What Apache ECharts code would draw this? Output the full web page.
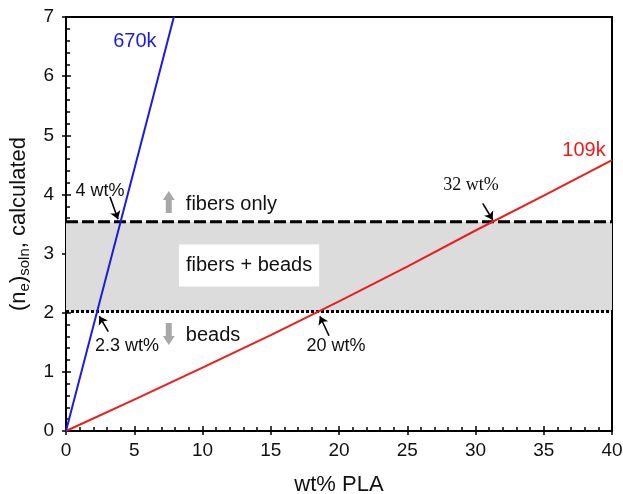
<!DOCTYPE html>
<html><head><meta charset="utf-8">
<script src="https://cdn.jsdelivr.net/npm/echarts@6/dist/echarts.min.js"></script>
<style>html,body{margin:0;padding:0;background:#fff}#c{width:623px;height:494px}</style>
</head><body><div id="c"></div>
<script>
// ---- data ----
const xTickLabels = ['0','5','10','15','20','25','30','35','40'];
const yTickLabels = ['0','1','2','3','4','5','6','7'];
const blueX = [0, 2, 4, 6, 7.9];
const blueY = [0, 1.77, 3.54, 5.31, 7.0];
const redX = [0, 5, 10, 15, 20, 25, 30, 35, 40];
const redY = [0, 0.53, 1.07, 1.62, 2.19, 2.78, 3.39, 3.98, 4.58];
const fibersOnlyLevel = 3.54;
const beadsLevel = 2.02;
const levelX = [0, 40];
const arrowFrom = [[3.22, 3.96], [3.10, 1.68], [19.27, 1.61], [30.53, 3.85]];
const arrowTo = [[3.81, 3.58], [2.44, 1.94], [18.6, 1.94], [31.26, 3.57]];
const noteText = ['4 wt%', '2.3 wt%', '20 wt%', '32 wt%'];
const notePos = [[2.49, 4.06], [4.47, 1.44], [19.78, 1.44], [29.67, 4.16]];
const seriesNames = ['670k', '109k'];
const seriesNamePos = [[5.05, 6.58], [37.95, 4.75]];
const regionText = ['fibers only', 'fibers + beads', 'beads'];
const regionPos = [[12.12, 3.83], [13.41, 2.80], [10.77, 1.61]];
const bigArrowPos = [[7.53, 3.87], [7.53, 1.64]];

// ---- styles ----
const FONT = 'Liberation Sans';
const TXT = '#111';
const BLUE = '#1c1ce0';
const RED = '#ee1c1c';
const tickStyle = {color: '#000', width: 1.5};

const zip = (a, b) => a.map((v, i) => [v, b[i]]);

const chart = echarts.init(document.getElementById('c'), null, {renderer: 'canvas'});

const baseAxis = (extra) => Object.assign({
  type: 'value', splitLine: {show: false}
}, extra);

const option = {
  animation: false,
  backgroundColor: '#fff',
  grid: {left: 66, right: 11, top: 17, bottom: 63, show: true, borderColor: '#000', borderWidth: 2,
    containLabel: false, outerBoundsMode: 'none'},
  xAxis: [
    baseAxis({min: 0, max: 40, interval: 5, position: 'bottom',
      axisLine: {show: true, onZero: false, lineStyle: {color: '#000', width: 2}},
      axisTick: {show: true, inside: false, length: 4, lineStyle: tickStyle},
      axisLabel: {margin: 10, fontSize: 19, color: TXT, fontFamily: FONT,
        formatter: v => xTickLabels[Math.round(v / 5)]},
      name: 'wt% PLA', nameLocation: 'middle', nameGap: 43,
      nameTextStyle: {fontSize: 22, color: TXT, fontFamily: FONT}}),
    baseAxis({min: 0, max: 40, interval: 5, position: 'bottom',
      axisLine: {show: false, onZero: false},
      axisTick: {show: true, inside: true, length: 5, lineStyle: tickStyle},
      minorTick: {show: true, splitNumber: 5, length: 4, lineStyle: tickStyle},
      axisLabel: {show: false}})
  ],
  yAxis: [
    baseAxis({min: 0, max: 7, interval: 1, position: 'left',
      axisLine: {show: true, onZero: false, lineStyle: {color: '#000', width: 2}},
      axisTick: {show: true, inside: false, length: 4, lineStyle: tickStyle},
      axisLabel: {margin: 12, fontSize: 19, color: TXT, fontFamily: FONT,
        formatter: v => yTickLabels[Math.round(v)]},
      name: '{m|(n}{s|e}{m|)}{s|soln}{m|, calculated}', nameLocation: 'middle', nameGap: 28,
      nameTextStyle: {fontSize: 22, color: TXT, fontFamily: FONT,
        rich: {
          m: {fontSize: 22, color: TXT, fontFamily: FONT},
          s: {fontSize: 15, color: TXT, fontFamily: FONT, padding: [12, 0, 0, 0]}
        }}}),
    baseAxis({min: 0, max: 7, interval: 1, position: 'left',
      axisLine: {show: false, onZero: false},
      axisTick: {show: true, inside: true, length: 5, lineStyle: tickStyle},
      minorTick: {show: true, splitNumber: 5, length: 4, lineStyle: tickStyle},
      axisLabel: {show: false}})
  ],
  series: [
    {
      type: 'line', name: 'band', data: [], z: 1, silent: true,
      markArea: {silent: true, itemStyle: {color: '#dcdcdc', opacity: 1},
        data: [[{xAxis: levelX[0], yAxis: beadsLevel}, {xAxis: levelX[1], yAxis: fibersOnlyLevel}]]}
    },
    {
      type: 'line', name: 'fibersOnly', data: levelX.map(x => [x, fibersOnlyLevel]), z: 3,
      showSymbol: false, silent: true,
      lineStyle: {color: '#000', width: 3, type: [12, 4], cap: 'butt'}
    },
    {
      type: 'line', name: 'beads', data: levelX.map(x => [x, beadsLevel]), z: 3,
      showSymbol: false, silent: true,
      lineStyle: {color: '#000', width: 3, type: [3, 2], cap: 'butt'}
    },
    {
      type: 'line', name: seriesNames[1], data: zip(redX, redY), z: 4,
      showSymbol: false, lineStyle: {color: RED, width: 2}
    },
    {
      type: 'line', name: seriesNames[0], data: zip(blueX, blueY), z: 4,
      showSymbol: false, lineStyle: {color: BLUE, width: 2}
    },
    {
      type: 'lines', coordinateSystem: 'cartesian2d', z: 5, silent: true,
      symbol: ['none', 'arrow'], symbolSize: 8,
      lineStyle: {color: '#000', width: 1.6, opacity: 1},
      data: arrowFrom.map((f, i) => ({coords: [f, arrowTo[i]]}))
    },
    {
      type: 'scatter', z: 5, silent: true,
      symbol: 'path://M3,9 L3,22 L9,22 L9,9 L12,9 L6,0 L0,9 Z',
      symbolSize: [12, 22],
      itemStyle: {color: '#a8a8a8', opacity: 1},
      data: bigArrowPos.map((p, i) => ({value: p, symbolRotate: i === 0 ? 0 : 180}))
    },
    {
      type: 'scatter', z: 6, silent: true, symbolSize: 0,
      itemStyle: {opacity: 1},
      data: [
        ...noteText.map((t, i) => ({value: notePos[i], name: t,
          label: {fontSize: 18, fontFamily: i === 3 ? 'Liberation Serif' : FONT, color: TXT}})),
        ...seriesNames.map((t, i) => ({value: seriesNamePos[i], name: t,
          label: {fontSize: 20, fontFamily: FONT, color: i === 0 ? BLUE : RED}})),
        ...regionText.map((t, i) => ({value: regionPos[i], name: t,
          label: i === 1
            ? {fontSize: 20, fontFamily: FONT, color: TXT, backgroundColor: '#fff', padding: [11, 7]}
            : {fontSize: 20, fontFamily: FONT, color: TXT}}))
      ],
      label: {show: true, position: 'inside', opacity: 1, formatter: p => p.name}
    }
  ]
};
chart.setOption(option);
</script>
</body></html>
